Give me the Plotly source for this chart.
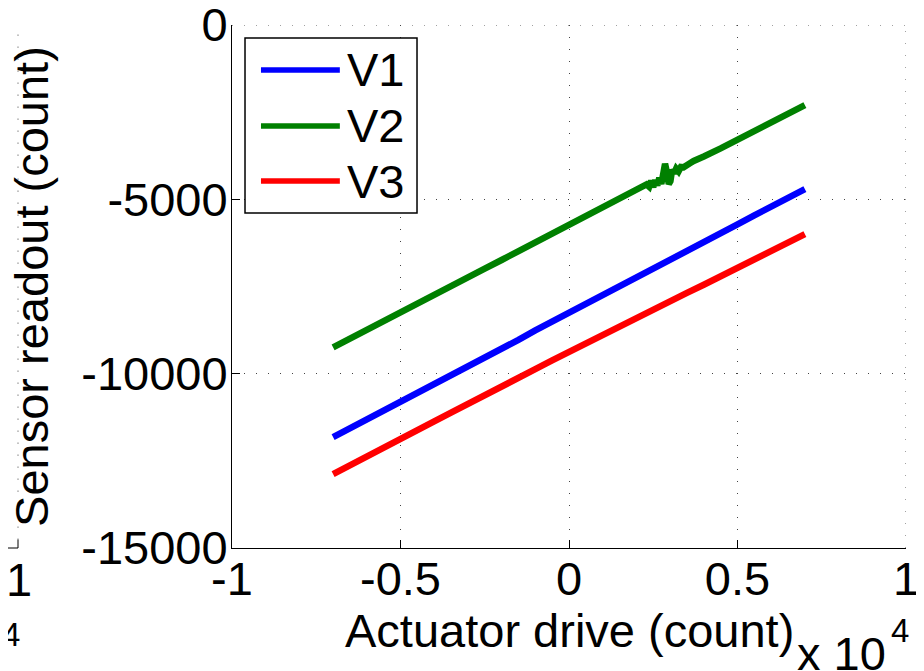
import plotly.graph_objects as go

# ---- data ----
x_main = [-7000, -6500, -6000, -5500, -5000, -4500, -4000, -3500, -3000, -2500,
          -2000, -1500, -1000, -500, 0, 500, 1000, 1500, 2000, 2500,
          3000, 3500, 4000, 4500, 5000, 5500, 6000, 6500, 7000]

v1 = [-11820, -11570, -11290, -11060, -10780, -10550, -10300, -10030, -9790, -9540,
      -9270, -9030, -8760, -8510, -8262, -8010, -7760, -7490, -7250, -6990,
      -6740, -6490, -6220, -5980, -5720, -5460, -5210, -4960, -4710]

v3 = [-12880, -12620, -12380, -12110, -11870, -11610, -11370, -11120, -10860, -10620,
      -10370, -10110, -9870, -9620, -9372, -9130, -8880, -8650, -8400, -8170,
      -7930, -7680, -7450, -7200, -6960, -6720, -6470, -6240, -5996]

x_v2 = [-7000, -6500, -6000, -5500, -5000, -4500, -4000, -3500, -3000, -2500,
        -2000, -1500, -1000, -500, 0, 500, 1000, 1500, 2000, 2200,
        2300, 2380, 2440, 2500, 2560, 2620, 2680, 2740, 2800, 2850,
        2900, 2960, 3010, 3060, 3120, 3180, 3250, 3320, 3400, 3500,
        3600, 3700, 3800, 4000, 4500, 5000, 5500, 6000, 6500, 7000]

v2 = [-9245, -9000, -8740, -8490, -8250, -7990, -7750, -7490, -7240, -6990,
      -6740, -6490, -6240, -5990, -5740, -5490, -5240, -4990, -4720, -4630,
      -4570, -4640, -4470, -4650, -4450, -4600, -4380, -4560, -4250, -3980,
      -4200, -4560, -4480, -4150, -4250, -4120, -4200, -4070, -4080, -3990,
      -3960, -3900, -3870, -3770, -3540, -3290, -3040, -2790, -2550, -2295]

series_names = ["V1", "V2", "V3"]
series_colors = ["#0000ff", "#008000", "#ff0000"]

x_ticks = [-10000, -5000, 0, 5000, 10000]
x_ticklabels = ["-1", "-0.5", "0", "0.5", "1"]
y_ticks = [-15000, -10000, -5000, 0]
y_ticklabels = ["-15000", "-10000", "-5000", "0"]
x_range = [-10000, 10000]
y_range = [-15000, 0]

FONT = "Liberation Sans, Arial, sans-serif"
FS = 47
GRID = "#444444"
GRIDDASH = "1px,11px"

fig = go.Figure()
for xs, ys, name, col in [(x_main, v1, "V1", series_colors[0]),
                          (x_v2, v2, "V2", series_colors[1]),
                          (x_main, v3, "V3", series_colors[2])]:
    fig.add_trace(go.Scatter(x=xs, y=ys, mode="lines", name=name,
                             line=dict(color=col, width=6.5),
                             showlegend=False))

axis_common = dict(
    showline=True, linecolor="black", linewidth=1,
    ticks="inside", ticklen=8, tickcolor="black", tickwidth=1,
    showgrid=True, gridcolor=GRID, gridwidth=1, griddash=GRIDDASH,
    zeroline=False, mirror=False, automargin=False,
    ticklabeloverflow="allow",
    tickfont=dict(family=FONT, size=FS, color="black"),
)

fig.update_xaxes(range=x_range, tickvals=x_ticks, ticktext=x_ticklabels,
                 ticklabelstandoff=-10, **axis_common)
fig.update_yaxes(range=y_range, tickvals=y_ticks, ticktext=y_ticklabels,
                 ticklabelstandoff=-6, **axis_common)

# grid lines on the open edges (top y=0, right x=1e4)
fig.add_shape(type="line", xref="x", yref="paper", x0=x_range[1], x1=x_range[1], y0=0, y1=1,
              line=dict(color=GRID, width=1, dash=GRIDDASH), layer="below")
fig.add_shape(type="line", xref="paper", yref="y", x0=0, x1=1, y0=y_range[1], y1=y_range[1],
              line=dict(color=GRID, width=1, dash=GRIDDASH), layer="below")

# legend drawn manually (box, line samples, labels)
leg_y = [0.914, 0.807, 0.7017]
fig.add_shape(type="rect", xref="paper", yref="paper",
              x0=0.0193, x1=0.2745, y0=0.6405, y1=0.9751,
              line=dict(color="black", width=1.5), fillcolor="white", layer="above")
for yy, name, col in zip(leg_y, series_names, series_colors):
    fig.add_shape(type="line", xref="paper", yref="paper",
                  x0=0.043, x1=0.160, y0=yy, y1=yy,
                  line=dict(color=col, width=5.5), layer="above")
    fig.add_annotation(xref="paper", yref="paper", x=0.168, y=yy,
                       xanchor="left", yanchor="middle", showarrow=False,
                       text=name, font=dict(family=FONT, size=FS, color="black"))

# axis titles
fig.add_annotation(xref="paper", yref="paper", x=0.5, y=-0.1584,
                   xanchor="center", yanchor="middle", showarrow=False,
                   text="Actuator drive (count)",
                   font=dict(family=FONT, size=FS, color="black"))
fig.add_annotation(xref="paper", yref="paper", x=-0.2976, y=0.5,
                   xanchor="center", yanchor="middle", textangle=-90,
                   showarrow=False, text="Sensor readout (count)",
                   font=dict(family=FONT, size=FS, color="black"))

# exponent label (x 10^4), base and superscript placed separately
fig.add_annotation(xref="paper", yref="paper", x=0.835, y=-0.2017,
                   xanchor="left", yanchor="middle", showarrow=False,
                   text="x 10",
                   font=dict(family=FONT, size=FS, color="black"))
fig.add_annotation(xref="paper", yref="paper", x=0.9748, y=-0.1577,
                   xanchor="left", yanchor="middle", showarrow=False,
                   text="4",
                   font=dict(family=FONT, size=33, color="black"))

# fragment of neighbouring panel at far left
fig.add_shape(type="line", xref="paper", yref="paper", x0=-0.36, x1=-0.3175, y0=0, y1=0,
              line=dict(color="black", width=1))
fig.add_shape(type="line", xref="paper", yref="paper", x0=-0.3175, x1=-0.3175, y0=0, y1=0.016,
              line=dict(color="black", width=1))
fig.add_shape(type="line", xref="paper", yref="paper", x0=-0.3175, x1=-0.3175, y0=0.016, y1=1.0,
              line=dict(color=GRID, width=1, dash=GRIDDASH))
fig.add_annotation(xref="paper", yref="paper", x=-0.3163, y=-0.0604,
                   xanchor="center", yanchor="middle", showarrow=False, text="1",
                   font=dict(family=FONT, size=FS, color="black"))
fig.add_annotation(xref="paper", yref="paper", x=-0.328, y=-0.165,
                   xanchor="center", yanchor="middle", showarrow=False, text="4",
                   font=dict(family=FONT, size=33, color="black"))

fig.update_layout(
    width=916, height=663,
    margin=dict(l=224, r=18, t=17, b=123),
    plot_bgcolor="white", paper_bgcolor="white",
    showlegend=False,
    font=dict(family=FONT, size=FS, color="black"),
)

fig.write_html("out.html")
